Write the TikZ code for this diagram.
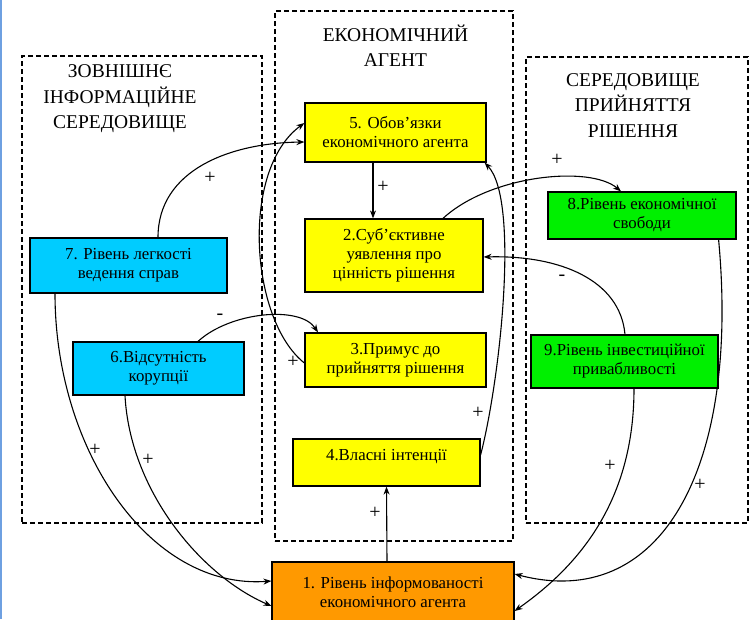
\documentclass[tikz,border=0pt]{standalone}
\usepackage{fontspec}
\setmainfont{Liberation Serif}
\usetikzlibrary{arrows.meta,calc}
\definecolor{nyellow}{RGB}{255,255,0}
\definecolor{ncyan}{RGB}{0,204,255}
\definecolor{ngreen}{RGB}{0,240,0}
\definecolor{norange}{RGB}{255,153,0}
\definecolor{edgeblue}{RGB}{110,160,225}
\begin{document}
\begin{tikzpicture}[x=1pt,y=-1pt,
  region/.style={draw, dash pattern=on 5pt off 3pt, line width=1.1pt},
  box/.style={draw, line width=1.2pt, align=center, inner sep=2pt, font=\fontsize{16.8}{19}\selectfont},
  ttl/.style={align=center, font=\fontsize{19.5}{25.5}\selectfont},
  conn/.style={line width=1.1pt, -{Stealth[length=8pt,width=6pt]}},
  sgn/.style={font=\fontsize{20}{20}\selectfont, inner sep=0pt}
]
\useasboundingbox (0,0) rectangle (750,619);
\clip (0,0) rectangle (750,619);
\fill[white] (0,0) rectangle (750,619);
\draw[edgeblue, line width=2pt] (1,0) -- (1,619);

% regions
\node[region, minimum width=240pt, minimum height=467pt] (rl) at (142,289.5) {};
\node[region, minimum width=238pt, minimum height=530pt] (rc) at (394,276) {};
\node[region, minimum width=222pt, minimum height=466pt] (rr) at (637,290) {};

% titles
\node[ttl] (tl) at (120,99) {ЗОВНІШНЄ\\ІНФОРМАЦІЙНЕ\\СЕРЕДОВИЩЕ};
\node[ttl] (tc) at (395.5,45.5) {ЕКОНОМІЧНИЙ\\АГЕНТ};
\node[ttl] (tr) at (633,105.5) {СЕРЕДОВИЩЕ\\ПРИЙНЯТТЯ\\РІШЕННЯ};

% boxes
\node[box, fill=nyellow, minimum width=181pt, minimum height=59pt] (n5) at (395.5,132.5) {5. Обов’язки\\економічного агента};
\node[box, fill=nyellow, minimum width=178pt, minimum height=73pt] (n2) at (394,255.5) {2.Суб’єктивне\\уявлення про\\цінність рішення};
\node[box, fill=nyellow, minimum width=181pt, minimum height=54pt] (n3) at (395.5,360) {3.Примус до\\прийняття рішення};
\node[box, fill=nyellow, minimum width=187pt, minimum height=47pt, text height=11pt, text depth=16pt] (n4) at (386.5,462.5) {4.Власні інтенції};
\node[box, fill=norange, minimum width=242pt, minimum height=60pt] (n1) at (393,592) {1. Рівень інформованості\\економічного агента};
\node[box, fill=ncyan, minimum width=197pt, minimum height=55pt] (n7) at (128.5,265.5) {7. Рівень легкості\\ведення справ};
\node[box, fill=ncyan, minimum width=171pt, minimum height=53pt] (n6) at (158.5,368.5) {6.Відсутність\\корупції};
\node[box, fill=ngreen, minimum width=188pt, minimum height=47pt] (n8) at (642,215.5) {8.Рівень економічної\\свободи};
\node[box, fill=ngreen, minimum width=187pt, minimum height=53pt] (n9) at (624.5,361.5) {9.Рівень інвестиційної\\привабливості};

% connectors
\draw[conn] ([xshift=-22.5pt]n5.south) -- ([xshift=-21pt]n2.north);
\draw[conn] ([xshift=-6pt]n1.north) -- (n4.south);
\draw[conn] ([xshift=29.5pt]n7.north) .. controls (158,170) and (230,143) .. ([yshift=-9.5pt]n5.west);
\draw[conn] ([xshift=39.5pt]n6.north) .. controls (230,312) and (300,305) .. ([xshift=-77.5pt]n3.north);
\draw[conn] ([yshift=-3pt]n3.west) .. controls (250,320) and (240,170) .. ([yshift=9.5pt]n5.west);
\draw[conn] ([yshift=7.5pt]n4.east) .. controls (500,380) and (520,200) .. ([xshift=-2pt]n5.south east);
\draw[conn] ([xshift=49pt]n2.north) .. controls (490,175) and (590,165) .. ([xshift=-21pt]n8.north);
\draw[conn] ([xshift=0.5pt]n9.north) .. controls (620,280) and (560,255) .. ([yshift=-1.5pt]n2.east);
\draw[conn] ([xshift=9.5pt]n9.south) .. controls (634,500) and (580,565) .. ([yshift=-19pt]n1.east);
\draw[conn] ([xshift=-18pt]n8.south east) .. controls (740,470) and (660,612) .. ([yshift=18pt]n1.east);
\draw[conn] ([xshift=-73.5pt]n7.south) .. controls (55,450) and (150,590) .. ([yshift=11pt]n1.west);
\draw[conn] ([xshift=-33.5pt]n6.south) .. controls (130,490) and (200,575) .. ([yshift=-14pt]n1.west);

% signs
\node[sgn] (s1) at (383,187) {+};
\node[sgn] (s2) at (375,513) {+};
\node[sgn] (s3) at (210,178) {+};
\node[sgn] (s4) at (220,317) {-};
\node[sgn] (s5) at (293,362) {+};
\node[sgn] (s6) at (478,413) {+};
\node[sgn] (s7) at (557,160) {+};
\node[sgn] (s8) at (562,278) {-};
\node[sgn] (s9) at (610,466) {+};
\node[sgn] (s10) at (700,485) {+};
\node[sgn] (s11) at (95,450) {+};
\node[sgn] (s12) at (148,460) {+};
\end{tikzpicture}
\end{document}
